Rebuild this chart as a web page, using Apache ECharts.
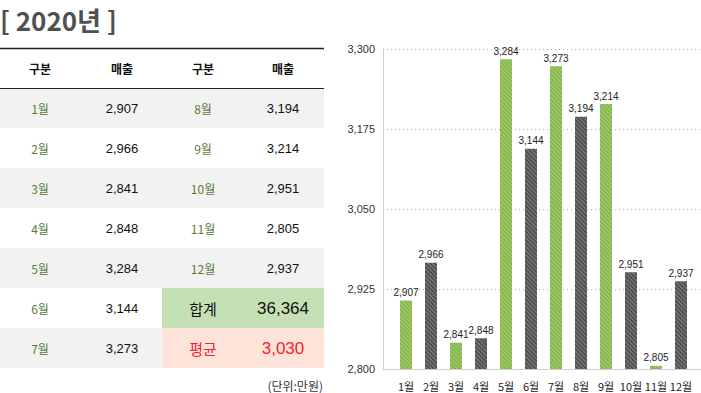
<!DOCTYPE html>
<html><head><meta charset="utf-8">
<script src="https://cdn.jsdelivr.net/npm/echarts@6/dist/echarts.min.js"></script>
<style>html,body{margin:0;padding:0;background:#fff}#c{width:701px;height:393px}</style>
</head><body><div id="c"></div>
<script>
const titleText = '[ 2020년 ]';
const months = ['1월','2월','3월','4월','5월','6월','7월','8월','9월','10월','11월','12월'];
const sales = [2907,2966,2841,2848,3284,3144,3273,3194,3214,2951,2805,2937];
const yTicks = [2800,2925,3050,3175,3300];
const headers = ['구분','매출','구분','매출'];
const sumLabel = '합계';
const avgLabel = '평균';
const unitLabel = '(단위:만원)';

const KR = '"Noto Sans CJK KR", sans-serif';
const NUM = '"Liberation Sans Narrow", "Liberation Sans", sans-serif';
const fmt = v => v.toLocaleString('en-US');
const total = sales.reduce((a,b)=>a+b,0);
const avg = Math.round(total/sales.length);

const GREEN = '#86b74a', DARK = '#505050';
const colX = [40, 122, 203, 283];
const top0 = 48, rowH = 40, tableW = 324;
const g = [];
// title
g.push({type:'text', x:0, y:19, style:{text:titleText, fill:'#505050', font:'bold 26px ' + KR, align:'left', verticalAlign:'middle'}});
// row backgrounds
for (let i = 0; i < 7; i++) {
  const y = top0 + rowH*(i+1);
  if (i % 2 === 0) g.push({type:'rect', shape:{x:0,y:y,width:tableW,height:rowH}, style:{fill:'#f2f2f2'}, z:0});
}
g.push({type:'rect', shape:{x:162,y:top0+rowH*6,width:tableW-162,height:rowH}, style:{fill:'#c5e0b4'}, z:1});
g.push({type:'rect', shape:{x:162,y:top0+rowH*7,width:tableW-162,height:rowH}, style:{fill:'#fde3d9'}, z:1});
// lines
g.push({type:'line', shape:{x1:0,y1:top0+0.5,x2:tableW,y2:top0+0.5}, style:{stroke:'#222',lineWidth:1.5}, z:2});
g.push({type:'line', shape:{x1:0,y1:top0+rowH+0.5,x2:tableW,y2:top0+rowH+0.5}, style:{stroke:'#222',lineWidth:1}, z:2});
// headers
headers.forEach((h,i)=>g.push({type:'text', x:colX[i], y:top0+rowH/2, z:3, style:{text:h, fill:'#111', font:'bold 12px ' + KR, align:'center', verticalAlign:'middle'}}));
// body
for (let i = 0; i < 7; i++) {
  const cy = top0 + rowH*(i+1) + rowH/2;
  g.push({type:'text', x:colX[0], y:cy, z:3, style:{text:months[i], fill:'#5a7a3a', font:'12px ' + KR, align:'center', verticalAlign:'middle'}});
  g.push({type:'text', x:colX[1], y:cy, z:3, style:{text:fmt(sales[i]), fill:'#111', font:'13px ' + NUM, align:'center', verticalAlign:'middle'}});
  const j = i + 7;
  if (j < 12) {
    g.push({type:'text', x:colX[2], y:cy, z:3, style:{text:months[j], fill:'#5a7a3a', font:'12px ' + KR, align:'center', verticalAlign:'middle'}});
    g.push({type:'text', x:colX[3], y:cy, z:3, style:{text:fmt(sales[j]), fill:'#111', font:'13px ' + NUM, align:'center', verticalAlign:'middle'}});
  }
}
const cy6 = top0 + rowH*6 + rowH/2, cy7 = top0 + rowH*7 + rowH/2;
g.push({type:'text', x:colX[2], y:cy6, z:3, style:{text:sumLabel, fill:'#111', font:'15px ' + KR, align:'center', verticalAlign:'middle'}});
g.push({type:'text', x:colX[3], y:cy6, z:3, style:{text:fmt(total), fill:'#111', font:'17px ' + NUM, align:'center', verticalAlign:'middle'}});
g.push({type:'text', x:colX[2], y:cy7, z:3, style:{text:avgLabel, fill:'#f5222d', font:'15px ' + KR, align:'center', verticalAlign:'middle'}});
g.push({type:'text', x:colX[3], y:cy7, z:3, style:{text:fmt(avg), fill:'#f5222d', font:'17px ' + NUM, align:'center', verticalAlign:'middle'}});
g.push({type:'text', x:tableW-1, y:385, z:3, style:{text:unitLabel, fill:'#333', font:'12px ' + KR, align:'right', verticalAlign:'middle'}});

const decal = {symbol:'rect', symbolSize:1, dashArrayX:[[1,0]], dashArrayY:[1,2], rotation:Math.PI/4, color:'rgba(255,255,255,0.28)'};

const chart = echarts.init(document.getElementById('c'), null, {renderer:'svg'});
chart.setOption({
  animation:false,
  textStyle:{fontFamily:KR},
  graphic:g,
  grid:[
    {left:383, right:0, top:49, bottom:24},
    {left:393.5, width:300, top:49, bottom:24}
  ],
  xAxis:[
    {gridIndex:0, type:'value', min:0, max:1, axisLine:{show:true, lineStyle:{color:'#cfcfcf'}}, axisTick:{show:false}, axisLabel:{show:false}, splitLine:{show:false}},
    {gridIndex:1, type:'category', data:months, axisLine:{show:false}, axisTick:{show:false},
     axisLabel:{interval:0, color:'#222', fontSize:11, fontFamily:KR, margin:11}}
  ],
  yAxis:[
    {gridIndex:0, type:'value', min:2800, max:3300,
     axisLine:{show:true, lineStyle:{color:'#cfcfcf'}},
     axisTick:{show:false, customValues:yTicks},
     axisLabel:{customValues:yTicks, formatter:v=>fmt(v), color:'#333', fontSize:11, fontFamily:NUM, margin:8},
     splitLine:{show:true, lineStyle:{color:'#aaa', type:[1,3]}}},
    {gridIndex:1, type:'value', min:2800, max:3300, show:false, splitLine:{show:false}}
  ],
  series:[{
    type:'bar', xAxisIndex:1, yAxisIndex:1, barWidth:12,
    data:sales.map((v,i)=>({value:v, itemStyle:{color: i%2===0 ? GREEN : DARK, decal:decal}})),
    label:{show:true, position:'top', distance:3, color:'#222', fontSize:10, fontFamily:NUM, formatter:p=>fmt(p.value)}
  }]
});
</script></body></html>
